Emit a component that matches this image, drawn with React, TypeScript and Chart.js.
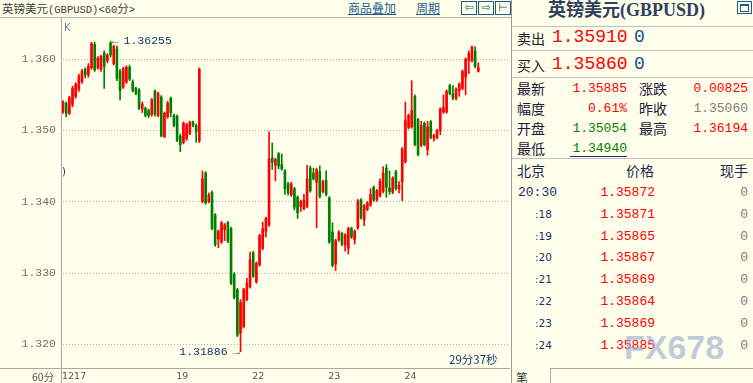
import React, { useEffect, useRef } from 'react';
import { Chart, registerables } from 'chart.js';
Chart.register(...registerables);

// ---- candle data (60-minute GBPUSD) ----
const opens = [
  1.3526, 1.3538, 1.3524, 1.3536, 1.3548, 1.3558, 1.3569, 1.3586, 1.3578, 1.3588,
  1.3621, 1.3588, 1.3586, 1.3609, 1.3598, 1.3623, 1.3594, 1.3615, 1.3583, 1.3561,
  1.3568, 1.3589, 1.3568, 1.3559, 1.3557, 1.3530, 1.3531, 1.3528, 1.3522, 1.3555,
  1.3521, 1.3547, 1.3491, 1.3519, 1.3545, 1.3521, 1.3520, 1.3492, 1.3483, 1.3488,
  1.3496, 1.3512, 1.3507, 1.3485, 1.3400, 1.3440, 1.3400, 1.3413, 1.3381, 1.3347,
  1.3343, 1.3360, 1.3370, 1.3362, 1.3298, 1.3276, 1.3215, 1.3224, 1.3262, 1.3280,
  1.3328, 1.3287, 1.3311, 1.3334, 1.3358, 1.3367, 1.3461, 1.3451, 1.3467, 1.3452,
  1.3443, 1.3425, 1.3409, 1.3418, 1.3406, 1.3393, 1.3390, 1.3393, 1.3447, 1.3440,
  1.3427, 1.3442, 1.3414, 1.3430, 1.3405, 1.3357, 1.3312, 1.3346, 1.3355, 1.3339,
  1.3334, 1.3362, 1.3346, 1.3363, 1.3402, 1.3374, 1.3389, 1.3395, 1.3420, 1.3402,
  1.3408, 1.3414, 1.3447, 1.3419, 1.3413, 1.3442, 1.3418, 1.3428, 1.3456, 1.3504,
  1.3505, 1.3548, 1.3515, 1.3479, 1.3510, 1.3473, 1.3512, 1.3489, 1.3490, 1.3500,
  1.3526, 1.3526, 1.3563, 1.3552, 1.3545, 1.3556, 1.3559, 1.3575, 1.3598, 1.3598,
  1.3612, 1.3583,
];
const closes = [
  1.3540, 1.3524, 1.3546, 1.3559, 1.3565, 1.3576, 1.3583, 1.3578, 1.3590, 1.3622,
  1.3585, 1.3602, 1.3604, 1.3590, 1.3606, 1.3606, 1.3618, 1.3573, 1.3556, 1.3587,
  1.3589, 1.3572, 1.3556, 1.3552, 1.3531, 1.3537, 1.3521, 1.3521, 1.3543, 1.3523,
  1.3552, 1.3492, 1.3524, 1.3538, 1.3525, 1.3507, 1.3486, 1.3480, 1.3510, 1.3508,
  1.3512, 1.3507, 1.3498, 1.3586, 1.3432, 1.3398, 1.3409, 1.3362, 1.3339, 1.3358,
  1.3370, 1.3367, 1.3344, 1.3285, 1.3265, 1.3212, 1.3258, 1.3276, 1.3285, 1.3318,
  1.3295, 1.3313, 1.3352, 1.3362, 1.3376, 1.3460, 1.3455, 1.3459, 1.3450, 1.3446,
  1.3418, 1.3412, 1.3425, 1.3392, 1.3384, 1.3400, 1.3402, 1.3432, 1.3415, 1.3432,
  1.3445, 1.3407, 1.3428, 1.3410, 1.3343, 1.3310, 1.3345, 1.3357, 1.3340, 1.3353,
  1.3362, 1.3350, 1.3358, 1.3401, 1.3377, 1.3394, 1.3398, 1.3410, 1.3402, 1.3415,
  1.3428, 1.3440, 1.3420, 1.3414, 1.3433, 1.3418, 1.3423, 1.3474, 1.3514, 1.3521,
  1.3528, 1.3480, 1.3466, 1.3507, 1.3480, 1.3505, 1.3490, 1.3493, 1.3500, 1.3530,
  1.3532, 1.3555, 1.3552, 1.3545, 1.3558, 1.3565, 1.3583, 1.3600, 1.3608, 1.3617,
  1.3590, 1.35885,
];
const highs = [
  1.3542, 1.3540, 1.3548, 1.3562, 1.3567, 1.3579, 1.3586, 1.3588, 1.3594, 1.3624,
  1.3624, 1.3604, 1.3606, 1.3612, 1.3608, 1.36255, 1.3620, 1.3619, 1.3586, 1.3589,
  1.3591, 1.3592, 1.3571, 1.3561, 1.3559, 1.3540, 1.3533, 1.3530, 1.3545, 1.3557,
  1.3554, 1.3549, 1.3526, 1.3541, 1.3547, 1.3523, 1.3522, 1.3495, 1.3512, 1.3510,
  1.3513, 1.3513, 1.3509, 1.3588, 1.3443, 1.3442, 1.3412, 1.3415, 1.3383, 1.3360,
  1.3372, 1.3369, 1.3372, 1.3364, 1.3300, 1.3278, 1.3262, 1.3278, 1.3292, 1.3329,
  1.3330, 1.3315, 1.3354, 1.3371, 1.3378, 1.3498, 1.3482, 1.3461, 1.3469, 1.3467,
  1.3445, 1.3427, 1.3427, 1.3420, 1.3408, 1.3402, 1.3410, 1.3451, 1.3450, 1.3447,
  1.3447, 1.3450, 1.3430, 1.3443, 1.3407, 1.3370, 1.3347, 1.3359, 1.3357, 1.3355,
  1.3364, 1.3364, 1.3360, 1.3403, 1.3404, 1.3396, 1.3400, 1.3418, 1.3422, 1.3417,
  1.3432, 1.3449, 1.3452, 1.3443, 1.3435, 1.3444, 1.3428, 1.3476, 1.3540, 1.3523,
  1.3570, 1.3550, 1.3517, 1.3513, 1.3512, 1.3513, 1.3514, 1.3495, 1.3502, 1.3532,
  1.3550, 1.3557, 1.3565, 1.3563, 1.3560, 1.3567, 1.3585, 1.3602, 1.3612, 1.3619,
  1.3618, 1.3595,
];
const lows = [
  1.3524, 1.3519, 1.3522, 1.3533, 1.3545, 1.3555, 1.3566, 1.3574, 1.3575, 1.3586,
  1.3583, 1.3586, 1.3583, 1.3559, 1.3595, 1.3603, 1.3592, 1.3570, 1.3543, 1.3559,
  1.3566, 1.3570, 1.3554, 1.3550, 1.3529, 1.3525, 1.3519, 1.3518, 1.3520, 1.3520,
  1.3519, 1.3491, 1.3490, 1.3517, 1.3519, 1.3505, 1.3484, 1.3470, 1.3481, 1.3486,
  1.3494, 1.3505, 1.3483, 1.3483, 1.3398, 1.3396, 1.3398, 1.3360, 1.3337, 1.3335,
  1.3341, 1.3345, 1.3342, 1.3283, 1.3263, 1.3210, 1.31886, 1.3222, 1.3260, 1.3278,
  1.3293, 1.3285, 1.3309, 1.3332, 1.3350, 1.3365, 1.3445, 1.3429, 1.3446, 1.3444,
  1.3410, 1.3409, 1.3407, 1.3388, 1.3376, 1.3386, 1.3388, 1.3391, 1.3413, 1.3430,
  1.3363, 1.3405, 1.3412, 1.3408, 1.3341, 1.3308, 1.3303, 1.3344, 1.3338, 1.3330,
  1.3326, 1.3348, 1.3340, 1.3361, 1.3375, 1.3366, 1.3387, 1.3393, 1.3400, 1.3400,
  1.3406, 1.3412, 1.3406, 1.3410, 1.3411, 1.3416, 1.3412, 1.3401, 1.3454, 1.3502,
  1.3503, 1.3478, 1.3464, 1.3477, 1.3478, 1.3465, 1.3488, 1.3485, 1.3488, 1.3494,
  1.3524, 1.3524, 1.3550, 1.3543, 1.3543, 1.3548, 1.3557, 1.3550, 1.3580, 1.3596,
  1.3588, 1.3582,
];
const dayTickIndex = [0, 36, 60, 84, 108];
const dayTickLabels = ['1217', '19', '22', '23', '24'];
const priceTicks = [1.32, 1.33, 1.34, 1.35, 1.36];

// ---- quote panel data ----
const quoteLeftLabels = ['最新', '幅度', '开盘', '最低'];
const quoteLeftValues = ['1.35885', '0.61%', '1.35054', '1.34940'];
const quoteLeftColors = ['#ff0000', '#ff0000', '#008000', '#008000'];
const quoteRightLabels = ['涨跌', '昨收', '最高'];
const quoteRightValues = ['0.00825', '1.35060', '1.36194'];
const quoteRightColors = ['#ff0000', '#808080', '#ff0000'];
const tickTimes = ['20:30', ':18', ':19', ':20', ':21', ':22', ':23', ':24'];
const tickPrices = ['1.35872', '1.35871', '1.35865', '1.35867', '1.35869', '1.35864', '1.35869', '1.35885'];
const tickVolumes = ['0', '0', '0', '0', '0', '0', '0', '0'];

const UP = '#ff0000';
const DOWN = '#008000';
const BG = '#ffffec';
const NAVY = '#16356a';
const MONO = '"Liberation Mono", "DejaVu Sans Mono", monospace';
const CJK = '"Noto Sans CJK SC", sans-serif';
const Y_MIN = 1.31658;
const Y_MAX = 1.36581;
const X_MIN = -0.3155;
const X_MAX = 141.0;

const T = ({ x, y, children, size = 13, color = '#000', family = MONO, align = 'left', weight = 'normal', style = {} }: any) => {
  const lh = Math.round(size * 1.6);
  const s: any = {
    position: 'absolute', top: y - lh / 2, lineHeight: lh + 'px', height: lh, fontSize: size,
    color, fontFamily: family, fontWeight: weight, whiteSpace: 'nowrap', ...style,
  };
  if (align === 'right') s.right = 753 - x;
  else s.left = x;
  return <div style={s}>{children}</div>;
};

const Line = ({ x, y, w, h, color = '#c0c0c0' }: any) => (
  <div style={{ position: 'absolute', left: x, top: y, width: w, height: h, background: color }} />
);

const IconBox = ({ x, glyph }: any) => (
  <div style={{
    position: 'absolute', left: x, top: 1, width: 14, height: 12, border: '1px solid #1f5c8c',
    color: '#1f5c8c', fontSize: 11, lineHeight: '12px', textAlign: 'center', fontFamily: '"DejaVu Sans", sans-serif',
  }}>{glyph}</div>
);

const framePlugin = {
  id: 'frame',
  beforeDatasetsDraw(chart: any) {
    const { ctx, chartArea, scales } = chart;
    const y = scales.y;
    ctx.save();
    ctx.lineWidth = 1;
    ctx.strokeStyle = '#b2b2b2';
    ctx.setLineDash([1, 2]);
    priceTicks.forEach((v) => {
      const py = Math.round(y.getPixelForValue(v)) + 0.5;
      ctx.beginPath();
      ctx.moveTo(chartArea.left + 1, py);
      ctx.lineTo(chartArea.right, py);
      ctx.stroke();
    });
    ctx.setLineDash([]);
    ctx.strokeStyle = '#a8a8a8';
    ctx.beginPath();
    ctx.moveTo(chartArea.left - 0.5, 0);
    ctx.lineTo(chartArea.left - 0.5, chart.height);
    ctx.stroke();
    ctx.beginPath();
    ctx.moveTo(0, chartArea.bottom + 0.5);
    ctx.lineTo(chart.width, chartArea.bottom + 0.5);
    ctx.stroke();
    ctx.restore();
  },
  afterDatasetsDraw(chart: any) {
    const { ctx, scales } = chart;
    const xs = scales.x;
    const ys = scales.y;
    const hiVal = Math.max(...highs);
    const loVal = Math.min(...lows);
    const hiIdx = highs.indexOf(hiVal);
    const loIdx = lows.indexOf(loVal);
    ctx.save();
    ctx.font = '11.5px "Liberation Mono", "DejaVu Sans Mono"';
    ctx.textBaseline = 'middle';
    const hx = xs.getPixelForValue(hiIdx);
    const hy = ys.getPixelForValue(hiVal);
    ctx.textAlign = 'left';
    ctx.fillStyle = '#555';
    ctx.fillText('←', hx + 1, hy);
    ctx.fillStyle = NAVY;
    ctx.fillText(hiVal.toFixed(5), hx + 13, hy);
    const lx = xs.getPixelForValue(loIdx);
    const ly = ys.getPixelForValue(loVal);
    ctx.textAlign = 'right';
    ctx.fillStyle = NAVY;
    ctx.fillText(loVal.toFixed(5), lx - 13, ly);
    ctx.fillStyle = '#555';
    ctx.fillText('→', lx - 0.5, ly);
    ctx.restore();
  },
};

const noPad = (s: any) => { s.paddingTop = 0; s.paddingBottom = 0; s.paddingLeft = 0; s.paddingRight = 0; };

export default function App() {
  const ref = useRef<HTMLCanvasElement>(null);
  useEffect(() => {
    if (!ref.current) return;
    const idx = opens.map((_, i) => i);
    const colors = idx.map((i) => (closes[i] >= opens[i] ? UP : DOWN));
    const chart = new Chart(ref.current, {
      type: 'bar',
      data: {
        datasets: [
          {
            label: 'wick',
            data: idx.map((i) => ({ x: i, y: [lows[i], highs[i]] })) as any,
            backgroundColor: colors,
            barThickness: 1,
            grouped: false,
            order: 2,
          } as any,
          {
            label: 'body',
            data: idx.map((i) => ({ x: i, y: [opens[i], closes[i]] })) as any,
            backgroundColor: colors,
            barThickness: 2,
            grouped: false,
            order: 1,
          } as any,
        ],
      },
      options: {
        animation: false,
        responsive: false,
        maintainAspectRatio: false,
        layout: { padding: 0 },
        plugins: { legend: { display: false }, tooltip: { enabled: false } },
        scales: {
          x: {
            type: 'linear',
            min: X_MIN,
            max: X_MAX,
            offset: false,
            grid: { display: false, drawTicks: false, offset: false },
            border: { display: false },
            afterBuildTicks: (s: any) => { s.ticks = dayTickIndex.map((v) => ({ value: v })); },
            afterFit: (s: any) => { s.height = 15; noPad(s); },
            ticks: {
              autoSkip: false, maxRotation: 0, minRotation: 0, align: 'start', padding: 3, labelOffset: -1,
              color: '#555', font: { family: 'DejaVu Sans', size: 9.5 },
              callback: (v: any) => { const k = dayTickIndex.indexOf(Number(v)); return k >= 0 ? dayTickLabels[k] : ''; },
            },
          } as any,
          y: {
            min: Y_MIN,
            max: Y_MAX,
            grid: { display: false, drawTicks: false },
            border: { display: false },
            afterBuildTicks: (s: any) => { s.ticks = priceTicks.map((v) => ({ value: v })); },
            afterFit: (s: any) => { s.width = 62; noPad(s); },
            ticks: {
              padding: 6, color: '#6e6e6e', font: { family: 'Liberation Mono', size: 11.5 },
              callback: (v: any) => Number(v).toFixed(3),
            },
          } as any,
        },
      },
      plugins: [framePlugin],
    });
    return () => chart.destroy();
  }, []);

  const rowY = (k: number) => 192.5 + k * 21.8;

  return (
    <div style={{ position: 'fixed', left: 0, top: 0, width: 753, height: 383, background: BG, overflow: 'hidden' }}>
      {/* left header */}
      <div style={{ position: 'absolute', left: 2, top: 0, height: 16, lineHeight: '16px', color: '#404040', whiteSpace: 'nowrap' }}>
        <span style={{ fontFamily: CJK, fontSize: 11.5 }}>英镑美元</span>
        <span style={{ fontFamily: MONO, fontSize: 10.5 }}>(GBPUSD)&lt;60</span>
        <span style={{ fontFamily: CJK, fontSize: 11.5 }}>分</span>
        <span style={{ fontFamily: MONO, fontSize: 10.5 }}>&gt;</span>
      </div>
      <T x={348} y={7.5} size={12} family={CJK} color="#1f5c8c" style={{ textDecoration: 'underline' }}>商品叠加</T>
      <T x={416} y={7.5} size={12} family={CJK} color="#1f5c8c" style={{ textDecoration: 'underline' }}>周期</T>
      <IconBox x={461} glyph="⇦" />
      <IconBox x={478} glyph="⇨" />
      <IconBox x={495} glyph="⊢" />
      <Line x={0} y={17} w={511} h={1} color="#b8b8b8" />

      <canvas ref={ref} width={510} height={365} style={{ position: 'absolute', left: 0, top: 18, width: 510, height: 365 }} />

      <T x={64} y={28} size={10} family='"DejaVu Sans", sans-serif' color="#6a78a0">K</T>
      <T x={62} y={172} size={10} family='"DejaVu Sans", sans-serif' color={NAVY}>)</T>
      <T x={32} y={376} size={10.5} family={CJK} color="#555">60分</T>
      <T x={449} y={359} size={11.5} family={CJK} color={NAVY}>29分37秒</T>

      {/* separators */}
      <Line x={511} y={0} w={1} h={383} color="#9a9a9a" />

      {/* right panel */}
      <div style={{ position: 'absolute', left: 548, top: 0, height: 21, lineHeight: '21px', color: '#2e4160', fontWeight: 'bold', fontSize: 18, fontFamily: '"Liberation Serif", "Noto Sans CJK SC", serif', whiteSpace: 'nowrap' }}>英镑美元(GBPUSD)</div>
      <div style={{ position: 'absolute', left: 737, top: 1, width: 13, height: 11, border: '1px solid #1f5c8c' }}>
        <div style={{ position: 'absolute', left: 2, top: 2, width: 7, height: 5, border: '1px solid #1f5c8c', borderTopWidth: 2 }} />
      </div>
      <Line x={512} y={26} w={241} h={1} />
      <T x={517} y={37.5} size={14} family={CJK} color="#222">卖出</T>
      <T x={552} y={37.5} size={18} color="#ff0000">1.35910</T>
      <T x={634} y={37.5} size={18} color="#1a4d8c">0</T>
      <Line x={512} y={50} w={241} h={1} />
      <T x={517} y={64.5} size={14} family={CJK} color="#222">买入</T>
      <T x={552} y={64.5} size={18} color="#ff0000">1.35860</T>
      <T x={634} y={64.5} size={18} color="#1a4d8c">0</T>
      <Line x={512} y={77} w={241} h={1} />
      {quoteLeftLabels.map((l, k) => (
        <React.Fragment key={'ql' + k}>
          <T x={517} y={88 + k * 20} size={14} family={CJK} color="#1a1a3a">{l}</T>
          <T x={627} y={88 + k * 20} size={13} align="right" color={quoteLeftColors[k]}>{quoteLeftValues[k]}</T>
        </React.Fragment>
      ))}
      {quoteRightLabels.map((l, k) => (
        <React.Fragment key={'qr' + k}>
          <T x={639} y={88 + k * 20} size={14} family={CJK} color="#1a1a3a">{l}</T>
          <T x={748} y={88 + k * 20} size={13} align="right" color={quoteRightColors[k]}>{quoteRightValues[k]}</T>
        </React.Fragment>
      ))}
      <Line x={570} y={156} w={57} h={1} color="#1a3560" />
      <Line x={512} y={158} w={241} h={1} />
      <T x={517} y={170} size={14} family={CJK} color="#1a2a4a">北京</T>
      <T x={654} y={170} size={14} family={CJK} color="#1a2a4a" align="right">价格</T>
      <T x={748} y={170} size={14} family={CJK} color="#1a2a4a" align="right">现手</T>
      {tickTimes.map((t, k) => (
        <React.Fragment key={'tk' + k}>
          {k === 0
            ? <T x={518} y={rowY(k)} size={13} color={NAVY}>{t}</T>
            : <T x={535} y={rowY(k)} size={10.5} family='"DejaVu Sans", sans-serif' color={NAVY}>{t}</T>}
          <T x={655} y={rowY(k)} size={13} align="right" color="#ff0000">{tickPrices[k]}</T>
          <T x={748} y={rowY(k)} size={13} align="right" color="#808080">{tickVolumes[k]}</T>
        </React.Fragment>
      ))}
      <div style={{ position: 'absolute', left: 624, top: 330, fontFamily: '"Liberation Sans", sans-serif', fontSize: 34, lineHeight: '34px', fontWeight: 'bold', color: 'rgba(150,170,205,0.6)', whiteSpace: 'nowrap' }}>FX678</div>
      <Line x={550} y={368} w={203} h={1} color="#a8a8a8" />
      <Line x={550} y={368} w={1} h={15} color="#a8a8a8" />
      <T x={516} y={377} size={12} family={CJK} color="#333">笔</T>
    </div>
  );
}
